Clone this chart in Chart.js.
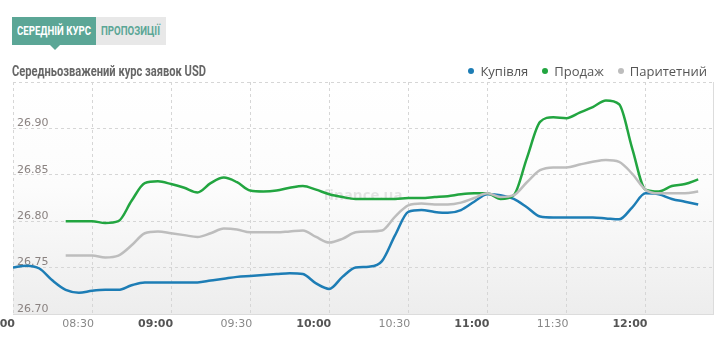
<!DOCTYPE html>
<html lang="uk">
<head>
<meta charset="utf-8">
<title>Середньозважений курс заявок USD</title>
<script src="https://cdn.jsdelivr.net/npm/chart.js@4.4.1/dist/chart.umd.min.js"></script>
<style>
  html, body { margin: 0; padding: 0; background: #fff; }
  #wrap { position: relative; width: 720px; height: 348px; overflow: hidden; }
  #chart { position: absolute; left: 0; top: 0; }
  .tab { position: absolute; top: 17px; height: 28px; z-index: 2; }
  .tab.active { left: 12px; width: 84px; background: #5ba696; }
  .tab.active:after { content: ""; position: absolute; left: 38px; top: 28px; border-left: 5px solid transparent;
         border-right: 5px solid transparent; border-top: 5px solid #5ba696; }
  .tab.other { left: 96px; width: 70px; background: #e8e8e8; }
  .fit { position: absolute; white-space: nowrap; transform-origin: 0 50%; font-family: "Roboto", sans-serif; font-weight: bold; }
  .tab .fit { font-size: 13px; top: 6px; line-height: 16px; }
  .tab.active .fit { color: #fff; left: 5px; }
  .tab.other .fit { color: #5ba696; left: 5px; }
  .title { left: 12px; top: 62px; font-size: 14px; line-height: 18px; color: #666; z-index: 2; }
  .legend { position: absolute; right: 13px; top: 62px; z-index: 2; display: flex; font-family: "Open Sans", sans-serif;
         font-size: 13px; color: #555; white-space: nowrap; }
  .legend span.item { display: flex; align-items: center; margin-left: 14px; }
  .legend span.dot { width: 6px; height: 6px; border-radius: 50%; margin-right: 6px; }
</style>
</head>
<body>
<div id="wrap">
  <canvas id="chart" width="720" height="348"></canvas>
  <div class="tab active"><span class="fit" data-w="74">СЕРЕДНІЙ КУРС</span></div>
  <div class="tab other"><span class="fit" data-w="59">ПРОПОЗИЦІЇ</span></div>
  <div class="fit title" data-w="194">Середньозважений курс заявок USD</div>
  <div class="legend" id="legend"></div>
</div>
<script>
// Sample times (every 5 minutes)
const times = [
  "08:00","08:05","08:10","08:15","08:20","08:25","08:30","08:35","08:40","08:45","08:50","08:55",
  "09:00","09:05","09:10","09:15","09:20","09:25","09:30","09:35","09:40","09:45","09:50","09:55",
  "10:00","10:05","10:10","10:15","10:20","10:25","10:30","10:35","10:40","10:45","10:50","10:55",
  "11:00","11:05","11:10","11:15","11:20","11:25","11:30","11:35","11:40","11:45","11:50","11:55",
  "12:00","12:05","12:10","12:15","12:20"
];

// Купівля
const buyRates = [
  26.750, 26.752, 26.749, 26.736, 26.726, 26.723, 26.725, 26.726, 26.726, 26.731, 26.734, 26.734,
  26.734, 26.734, 26.734, 26.736, 26.738, 26.740, 26.741, 26.742, 26.743, 26.744, 26.743, 26.733,
  26.727, 26.740, 26.750, 26.751, 26.757, 26.785, 26.810, 26.812, 26.810, 26.809, 26.812, 26.821,
  26.829, 26.828, 26.824, 26.815, 26.805, 26.804, 26.804, 26.804, 26.804, 26.803, 26.802, 26.815,
  26.830, 26.829, 26.824, 26.821, 26.818
];

// Продаж
const sellRates = [
  null, null, null, null, 26.800, 26.800, 26.800, 26.798, 26.800, 26.822, 26.841, 26.843,
  26.840, 26.836, 26.831, 26.841, 26.847, 26.842, 26.833, 26.832, 26.833, 26.836, 26.838, 26.834,
  26.829, 26.826, 26.824, 26.824, 26.824, 26.824, 26.825, 26.825, 26.826, 26.827, 26.829, 26.830,
  26.830, 26.824, 26.828, 26.868, 26.907, 26.912, 26.911, 26.917, 26.923, 26.930, 26.926, 26.878,
  26.834, 26.832, 26.838, 26.840, 26.845
];

// Паритетний
const parityRates = [
  null, null, null, null, 26.763, 26.763, 26.763, 26.761, 26.763, 26.774, 26.787, 26.789,
  26.787, 26.785, 26.783, 26.787, 26.792, 26.791, 26.788, 26.788, 26.788, 26.789, 26.790, 26.783,
  26.777, 26.781, 26.788, 26.789, 26.790, 26.805, 26.817, 26.819, 26.818, 26.818, 26.820, 26.825,
  26.830, 26.826, 26.828, 26.842, 26.855, 26.858, 26.858, 26.861, 26.864, 26.866, 26.864, 26.851,
  26.834, 26.830, 26.830, 26.830, 26.832
];

const seriesNames = ["Купівля", "Продаж", "Паритетний"];
const seriesColors = ["#1d7db5", "#22a540", "#bdbdbd"];

// Axis ticks
const timeTicks = ["08:00","08:30","09:00","09:30","10:00","10:30","11:00","11:30","12:00"];
const rateTicks = [26.70, 26.75, 26.80, 26.85, 26.90, 26.95];
const axisStart = "08:00";
const axisEnd = "12:26";

const toMin = s => { const [h, m] = s.split(":").map(Number); return h * 60 + m; };
const xs = times.map(toMin);
const pts = arr => arr.map((v, i) => ({ x: xs[i], y: v }));

// Narrow header lettering: squeeze each label to its box width
document.querySelectorAll(".fit").forEach(el => {
  const w = el.getBoundingClientRect().width;
  el.style.transform = "scaleX(" + (Number(el.dataset.w) / w) + ")";
});

// Legend
const legend = document.getElementById("legend");
seriesNames.forEach((n, i) => {
  const it = document.createElement("span"); it.className = "item";
  const d = document.createElement("span"); d.className = "dot"; d.style.background = seriesColors[i];
  it.appendChild(d); it.appendChild(document.createTextNode(n)); legend.appendChild(it);
});

// Plot background, watermark, borders and time labels (right-aligned to their grid lines)
const plotDecor = {
  id: "plotDecor",
  beforeDraw(chart) {
    const { ctx, chartArea: a } = chart;
    const g = ctx.createLinearGradient(0, a.top, 0, a.bottom);
    g.addColorStop(0, "#ffffff");
    g.addColorStop(0.45, "#fcfcfc");
    g.addColorStop(1, "#ededed");
    ctx.save(); ctx.fillStyle = g; ctx.fillRect(a.left, a.top, a.right - a.left, a.bottom - a.top); ctx.restore();
  },
  beforeDatasetsDraw(chart) {
    const { ctx, chartArea: a } = chart;
    ctx.save();
    ctx.font = "bold 15px 'Open Sans', sans-serif";
    ctx.fillStyle = "rgba(120,120,120,0.18)";
    ctx.textAlign = "center"; ctx.textBaseline = "middle";
    ctx.fillText("finance.ua", 363, 196);
    ctx.strokeStyle = "#dcdcdc"; ctx.lineWidth = 1;
    ctx.beginPath();
    ctx.moveTo(a.right - 0.5, a.top); ctx.lineTo(a.right - 0.5, a.bottom + 0.5);
    ctx.moveTo(a.left, a.bottom + 0.5); ctx.lineTo(a.right, a.bottom + 0.5);
    ctx.stroke();
    ctx.restore();
  },
  afterDraw(chart) {
    const { ctx, chartArea: a } = chart;
    const sx = chart.scales.x;
    ctx.save();
    ctx.textAlign = "right"; ctx.textBaseline = "middle";
    timeTicks.forEach(t => {
      const m = toMin(t), hour = m % 60 === 0;
      ctx.font = (hour ? "bold " : "") + "11px 'DejaVu Sans', sans-serif";
      ctx.fillStyle = hour ? "#555" : "#888";
      ctx.fillText(t, sx.getPixelForValue(m) + 2, a.bottom + 10);
    });
    ctx.restore();
  }
};

const mk = (i, arr) => ({
  label: seriesNames[i], data: pts(arr), borderColor: seriesColors[i], backgroundColor: seriesColors[i],
  borderWidth: 2.5, pointRadius: 0, pointHoverRadius: 0, cubicInterpolationMode: "monotone", spanGaps: false
});

new Chart(document.getElementById("chart"), {
  type: "line",
  data: { datasets: [mk(2, parityRates), mk(1, sellRates), mk(0, buyRates)] },
  options: {
    responsive: false, animation: false,
    layout: { padding: { top: 82, left: 13, right: 6, bottom: 0 } },
    plugins: { legend: { display: false }, tooltip: { enabled: false } },
    scales: {
      x: {
        type: "linear", min: toMin(axisStart), max: toMin(axisEnd),
        afterBuildTicks: s => { s.ticks = timeTicks.map(t => ({ value: toMin(t) })); },
        afterFit: s => { s.height = 34; },
        grid: { color: "#d6d6d6", drawTicks: false, tickLength: 0 },
        border: { display: false, dash: [3, 3] },
        ticks: { display: false }
      },
      y: {
        min: rateTicks[0], max: rateTicks[rateTicks.length - 1],
        afterBuildTicks: s => { s.ticks = rateTicks.map(v => ({ value: v })); },
        afterFit: s => { s.width = 0; },
        grid: { color: "#d6d6d6", drawTicks: false, tickLength: 0 },
        border: { display: false, dash: [3, 3] },
        ticks: {
          mirror: true, padding: 4, labelOffset: -5,
          callback: v => v > 26.94 ? "" : v.toFixed(2),
          font: { family: "'DejaVu Sans', sans-serif", size: 11 },
          color: "#8a8280"
        }
      }
    }
  },
  plugins: [plotDecor]
});
</script>
</body>
</html>
